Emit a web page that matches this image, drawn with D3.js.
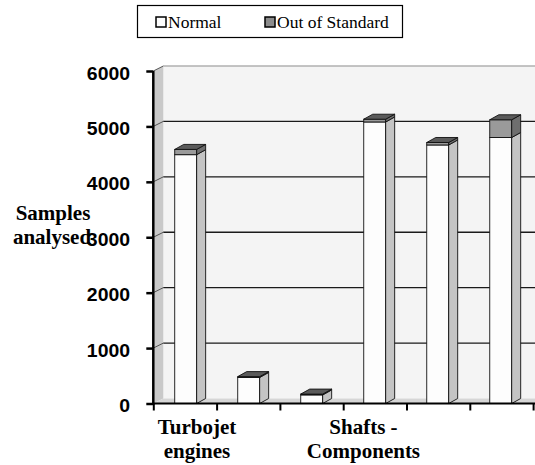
<!DOCTYPE html>
<html>
<head>
<meta charset="utf-8">
<script src="https://cdn.jsdelivr.net/npm/d3@7/dist/d3.min.js"></script>
<style>
  body { margin: 0; background: #fff; }
  svg { display: block; }
  .serif { font-family: "Liberation Serif", "Times New Roman", Times, serif; }
  .sans { font-family: "Liberation Sans", Arial, Helvetica, sans-serif; }
</style>
</head>
<body>
<script>
// data
const categories = ["c1", "c2", "c3", "c4", "c5", "c6"];
const normal = [4490, 470, 155, 5080, 4665, 4800];
const outOfStd = [95, 15, 15, 50, 45, 320];
const yTicks = [0, 1000, 2000, 3000, 4000, 5000, 6000];
const xLabels = [["Turbojet", "engines"], ["Shafts -", "Components"]];
const xLabelPos = [0.69, 3.32]; // in category units
const seriesNames = ["Normal", "Out of Standard"];

const W = 535, H = 465;
const x0 = 153.3, y0 = 403.5;
const dx = 9, dy = -5;     // bar depth
const wx = 10, wy = -5;    // wall depth

const svg = d3.select("body").append("svg").attr("width", W).attr("height", H);

const y = d3.scaleLinear().domain([0, 6000]).range([y0, 71]);
const x = d3.scaleBand().domain(categories).range([x0, x0 + 63.3 * 6])
  .paddingInner(0.652).paddingOuter(0.34);
const xi = d3.scaleLinear().domain([0, 6]).range([x0, x0 + 63.3 * 6]);

const pts = a => a.map(p => p.join(",")).join(" ");

// walls
svg.append("rect").attr("x", x0 + wx).attr("y", y(6000) + wy)
  .attr("width", W).attr("height", y(0) - y(6000))
  .attr("fill", "#f4f4f4");
svg.append("line").attr("x1", x0 + wx).attr("x2", W)
  .attr("y1", y(6000) + wy).attr("y2", y(6000) + wy)
  .attr("stroke", "#b0b0b0").attr("stroke-width", 1.5);
svg.append("polygon")
  .attr("points", pts([[x0, y(6000)], [x0 + wx, y(6000) + wy], [x0 + wx, y(0) + wy], [x0, y(0)]]))
  .attr("fill", "#c9c9c9");
svg.append("polygon")
  .attr("points", pts([[x0, y(0)], [x0 + wx, y(0) + wy], [W, y(0) + wy], [W, y(0)]]))
  .attr("fill", "#d6d6d6");

// gridlines on back wall
const grid = svg.append("g");
yTicks.filter(v => v > 0 && v < 6000).forEach(v => {
  grid.append("line").attr("x1", x0 + wx).attr("x2", W)
    .attr("y1", y(v) + wy).attr("y2", y(v) + wy)
    .attr("stroke", "#1a1a1a").attr("stroke-width", 1.3);
});
yTicks.filter(v => v > 0).forEach(v => {
  grid.append("line").attr("x1", x0).attr("x2", x0 + wx)
    .attr("y1", y(v)).attr("y2", y(v) + wy)
    .attr("stroke", "#333").attr("stroke-width", 0.8);
});

// bars
const bars = svg.append("g").attr("stroke", "#111").attr("stroke-width", 0.9);
categories.forEach((c, i) => {
  const bx = x(c), bw = x.bandwidth();
  const segs = [
    { lo: 0, hi: normal[i], front: "#fdfdfd", side: "#c4c4c4" },
    { lo: normal[i], hi: normal[i] + outOfStd[i], front: "#9a9a9a", side: "#6e6e6e" }
  ];
  segs.forEach(s => {
    const yt = y(s.hi), yb = y(s.lo);
    bars.append("rect").attr("x", bx).attr("y", yt).attr("width", bw).attr("height", yb - yt)
      .attr("fill", s.front);
    bars.append("polygon")
      .attr("points", pts([[bx + bw, yt], [bx + bw + dx, yt + dy], [bx + bw + dx, yb + dy], [bx + bw, yb]]))
      .attr("fill", s.side);
  });
  const yt = y(normal[i] + outOfStd[i]);
  bars.append("polygon")
    .attr("points", pts([[bx, yt], [bx + dx, yt + dy], [bx + bw + dx, yt + dy], [bx + bw, yt]]))
    .attr("fill", "#5a5a5a");
});

// axes
const yAxis = svg.append("g").attr("transform", `translate(${x0},0)`)
  .call(d3.axisLeft(y).tickValues(yTicks).tickSize(7).tickPadding(14.5).tickFormat(d3.format("d")));
yAxis.attr("font-family", null).attr("font-size", null);
yAxis.select(".domain").attr("stroke-width", 2.5).attr("d", `M0,${y(6000)}V${y0 + 1}`);
yAxis.selectAll(".tick line").attr("stroke-width", 2.5);
yAxis.selectAll(".tick text").attr("class", "sans")
  .attr("font-weight", "bold").attr("font-size", 18).attr("fill", "#000").attr("dy", "0.45em")
  .attr("transform", "scale(1.08,1)");

const xAxis = svg.append("g").attr("transform", `translate(0,${y0})`)
  .call(d3.axisBottom(xi).tickValues(d3.range(0, 7)).tickSize(7).tickFormat(""));
xAxis.select(".domain").attr("stroke-width", 2).attr("d", `M${x0},0H${W}`);
xAxis.selectAll(".tick line").attr("stroke-width", 2);

// x labels
xLabels.forEach((lines, k) => {
  const t = svg.append("text").attr("class", "serif").attr("text-anchor", "middle")
    .attr("font-weight", "bold").attr("font-size", 21);
  lines.forEach((s, j) => t.append("tspan").attr("x", xi(xLabelPos[k])).attr("y", 434 + j * 24).text(s));
});

// y title
const yt = svg.append("text").attr("class", "serif").attr("text-anchor", "middle")
  .attr("font-weight", "bold").attr("font-size", 21);
yt.append("tspan").attr("x", 53).attr("y", 220).text("Samples");
yt.append("tspan").attr("x", 52).attr("y", 243.5).text("analysed");

// legend
const lg = svg.append("g");
lg.append("rect").attr("x", 137.5).attr("y", 5.5).attr("width", 265).attr("height", 32)
  .attr("fill", "#fff").attr("stroke", "#000").attr("stroke-width", 1.2);
const legX = [156, 265];
const legFill = ["#fdfdfd", "#8c8c8c"];
seriesNames.forEach((n, i) => {
  lg.append("rect").attr("x", legX[i]).attr("y", 17).attr("width", 10).attr("height", 10)
    .attr("fill", legFill[i]).attr("stroke", "#000").attr("stroke-width", 1.5);
  lg.append("text").attr("class", "serif").attr("x", legX[i] + 12).attr("y", 28)
    .attr("font-size", 17.5).text(n);
});
</script>
</body>
</html>
